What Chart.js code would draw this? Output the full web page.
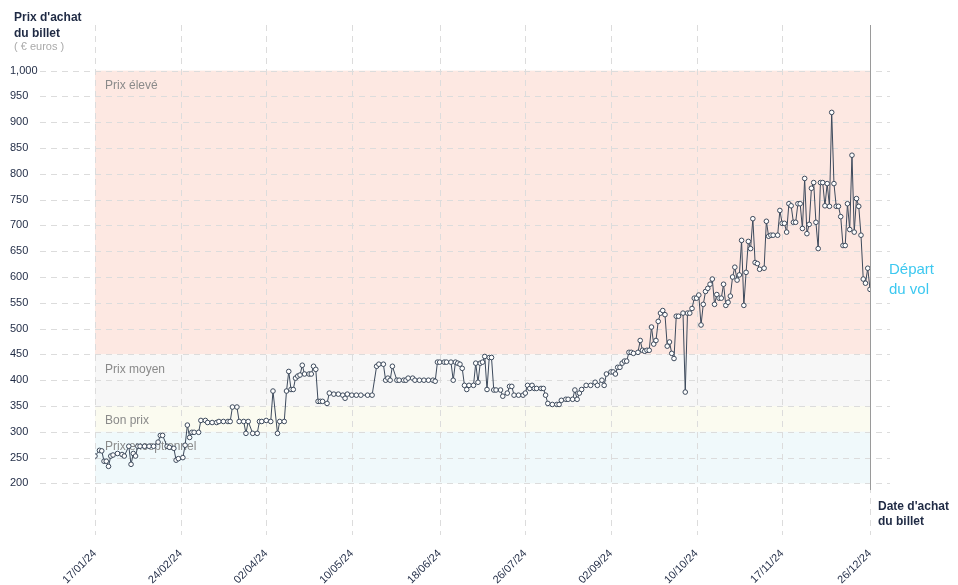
<!DOCTYPE html>
<html><head><meta charset="utf-8">
<script src="https://cdn.jsdelivr.net/npm/chart.js@4"></script>
<style>html,body{margin:0;padding:0;background:#fff}#w{width:958px;height:585px;position:relative}</style>
</head><body><div id="w"><canvas id="c" width="958" height="585"></canvas></div>
<script>
const days=[0,2,3,4,5,6,7,8,10,12,13,15,16,17,18,19,20,22,24,26,28,29,30,32,33,35,36,37,39,40,41,42,43,44,46,47,49,50,52,54,55,57,59,60,61,63,64,66,67,68,70,72,73,74,76,78,79,81,82,84,85,86,87,88,89,90,91,92,93,95,96,97,98,99,100,101,103,104,106,108,110,111,112,114,116,118,121,123,125,126,128,129,130,131,132,134,135,137,138,139,141,142,144,146,148,150,151,152,153,155,156,158,159,160,161,162,163,164,165,166,168,169,170,171,172,173,174,175,176,177,178,180,181,183,184,185,186,188,190,191,192,193,194,195,196,198,199,200,201,203,205,206,207,209,210,212,213,214,215,216,218,220,222,223,225,226,227,229,230,231,232,233,234,235,236,237,238,239,241,242,243,244,245,246,247,248,249,250,251,252,253,254,255,256,257,258,259,261,262,263,264,265,266,267,268,269,270,271,272,273,274,275,276,277,278,279,280,281,282,283,284,285,286,287,288,289,290,291,292,293,294,295,297,298,299,300,301,303,304,305,306,307,308,309,310,311,312,313,314,315,316,317,318,319,320,321,322,323,324,325,326,327,328,329,330,331,332,333,334,335,336,337,338,339,340,341,342,343,344];
const prices=[253,264,263,243,243,233,253,255,258,256,253,272,237,258,253,272,272,272,272,272,280,293,293,272,270,268,245,248,250,274,313,289,299,299,299,322,322,318,318,318,320,320,320,320,348,348,320,320,297,320,297,297,320,320,322,320,379,297,320,320,379,417,382,382,404,408,410,429,412,412,412,427,421,359,359,359,355,375,373,373,371,365,373,371,371,371,371,371,427,431,431,400,404,400,427,400,400,400,400,404,404,400,400,400,400,400,398,435,435,435,435,435,400,435,433,431,423,390,382,390,390,433,396,433,435,446,382,444,444,381,381,381,369,375,388,388,371,371,371,375,390,384,390,384,384,384,384,371,355,353,353,353,361,363,363,363,381,363,375,382,390,390,396,390,400,390,412,416,416,412,425,425,433,437,437,454,454,452,454,477,458,456,458,458,503,470,477,514,530,535,527,466,474,452,442,524,524,530,377,530,530,539,559,559,565,507,547,572,578,586,596,547,566,559,559,586,545,551,563,600,619,594,604,671,545,609,669,655,713,628,626,615,617,708,679,681,681,681,729,704,704,687,742,738,706,706,742,742,694,791,684,702,772,783,706,655,783,783,738,781,737,919,781,737,737,717,661,661,742,692,836,687,752,737,681,596,588,617,576];
const tickDays=[0,38,76,114,153,191,229,267,305,344];
const tickLabels=['17/01/24','24/02/24','02/04/24','10/05/24','18/06/24','26/07/24','02/09/24','10/10/24','17/11/24','26/12/24'];
const bands=[{from:450,to:1000,color:'#fde8e2',label:'Prix élevé'},{from:350,to:450,color:'#f7f7f7',label:'Prix moyen'},{from:300,to:350,color:'#fbfbf0',label:'Bon prix'},{from:200,to:300,color:'#f0f9fb',label:'Prix exceptionnel'}];
const yTicks=[200,250,300,350,400,450,500,550,600,650,700,750,800,850,900,950,1000];

const deco={id:'deco',
beforeDatasetsDraw(ch){const c=ch.ctx,x=ch.scales.x,y=ch.scales.y;
 c.save();
 bands.forEach(b=>{c.fillStyle=b.color;c.fillRect(x.getPixelForValue(0),y.getPixelForValue(b.to),x.getPixelForValue(344)-x.getPixelForValue(0),y.getPixelForValue(b.from)-y.getPixelForValue(b.to));});
 c.strokeStyle='#dcdcdc';c.lineWidth=1;c.setLineDash([6,5]);
 yTicks.forEach(v=>{const py=Math.round(y.getPixelForValue(v))+0.5;c.beginPath();c.moveTo(40,py);c.lineTo(890,py);c.stroke();});
 tickDays.forEach(d=>{const px=Math.round(x.getPixelForValue(d))+0.5;c.beginPath();c.moveTo(px,25);c.lineTo(px,535);c.stroke();});
 c.setLineDash([]);
 c.font='12px "Liberation Sans", Arial, sans-serif';c.fillStyle='#8a8a8a';c.textBaseline='middle';
 bands.forEach(b=>{c.fillText(b.label,105,y.getPixelForValue(b.to)+15);});
 c.strokeStyle='#9a9a9a';const ex=Math.round(x.getPixelForValue(344))+0.5;c.beginPath();c.moveTo(ex,25);c.lineTo(ex,490);c.stroke();
 c.restore();},
afterDraw(ch){const c=ch.ctx;c.save();c.textBaseline='middle';
 c.font='bold 12px "Liberation Sans", Arial, sans-serif';c.fillStyle='#1f2a44';
 c.fillText("Prix d'achat",14,18);c.fillText('du billet',14,34);
 c.fillText("Date d'achat",878,507);c.fillText('du billet',878,522);
 c.font='11px "Liberation Sans", Arial, sans-serif';c.fillStyle='#aaaaaa';c.fillText('( € euros )',14,47);
 c.font='15px "Liberation Sans", Arial, sans-serif';c.fillStyle='#3cc8f0';c.fillText('Départ',889,270);c.fillText('du vol',889,290);
 c.restore();}};

new Chart(document.getElementById('c'),{type:'line',
data:{datasets:[{data:days.map((d,i)=>({x:d,y:prices[i]})),borderColor:'#3d4a5c',borderWidth:1,pointRadius:2.3,pointBackgroundColor:'#fff',pointBorderColor:'#3d4a5c',pointBorderWidth:1,tension:0}]},
options:{responsive:false,animation:false,devicePixelRatio:1,
 layout:{padding:{left:10,right:88,top:19,bottom:0}},
 plugins:{legend:{display:false},tooltip:{enabled:false}},
 scales:{
  x:{type:'linear',min:0,max:344,grid:{display:false},border:{display:false},
   afterBuildTicks(s){s.ticks=tickDays.map(v=>({value:v}));},
   afterFit(s){s.height=50;},
   ticks:{autoSkip:false,maxRotation:45,minRotation:45,color:'#1f2a44',font:{size:11,family:'"Liberation Sans", Arial'},padding:4,callback:(v)=>{const i=tickDays.indexOf(v);return i>=0?tickLabels[i]:'';}}},
  y:{min:100,max:1100,grid:{display:false},border:{display:false},
   afterBuildTicks(s){s.ticks=yTicks.map(v=>({value:v}));},
   afterFit(s){s.width=85;},
   ticks:{crossAlign:'far',color:'#1f2a44',font:{size:11,family:'"Liberation Sans", Arial'},padding:0}}}},
plugins:[deco]});
</script></body></html>
